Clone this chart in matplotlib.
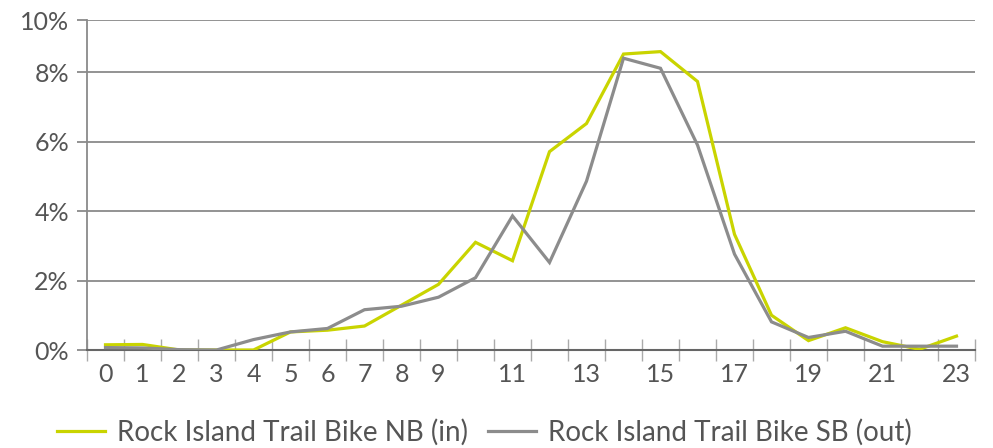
import numpy as np
import matplotlib.pyplot as plt
from matplotlib.ticker import FixedLocator, FuncFormatter

hours = list(range(24))
hour_labels = ['0', '1', '2', '3', '4', '5', '6', '7', '8', '9', '',
               '11', '', '13', '', '15', '', '17', '', '19', '', '21', '', '23']

# share of daily volume, in %
nb_in = [0.15, 0.16, 0.0, 0.0, 0.0, 0.52, 0.57, 0.69, 1.29, 1.89, 3.1, 2.57,
         5.71, 6.52, 8.52, 8.59, 7.73, 3.33, 1.0, 0.27, 0.64, 0.24, 0.02, 0.4]
sb_out = [0.07, 0.06, 0.01, 0.0, 0.3, 0.52, 0.62, 1.16, 1.26, 1.52, 2.08, 3.86,
          2.52, 4.86, 8.4, 8.11, 5.9, 2.76, 0.81, 0.36, 0.54, 0.11, 0.11, 0.11]

y_ticks = [0, 2, 4, 6, 8, 9.5]
y_labels = ['0%', '2%', '4%', '6%', '8%', '10%']

plt.rcParams['font.family'] = ['Lato', 'DejaVu Sans']

fig = plt.figure(figsize=(9.93, 4.48), dpi=100)
ax = fig.add_axes([87/993, (448-350)/448, (975-87)/993, 330/448])

grid_col = '#8a8a8a'
text_col = '#555555'

ax.plot(hours, nb_in, color='#c9d400', lw=2.3, label='Rock Island Trail Bike NB (in)',
        solid_joinstyle='miter', zorder=3)
ax.plot(hours, sb_out, color='#8c8c8c', lw=2.3, label='Rock Island Trail Bike SB (out)',
        solid_joinstyle='miter', zorder=4)

ax.set_xlim(-0.5, 23.5)
ax.set_ylim(0, 9.5)

ax.set_yticks(y_ticks)
ax.set_yticklabels(y_labels)
ax.yaxis.grid(True, color=grid_col, lw=1.3)
ax.set_axisbelow(True)

# boundaries between hours carry the tick marks, centers carry the labels
ax.xaxis.set_major_locator(FixedLocator(np.arange(-0.5, 24, 1)))
ax.xaxis.set_major_formatter(FuncFormatter(lambda v, p: ''))
ax.xaxis.set_minor_locator(FixedLocator(hours))
ax.set_xticklabels(hour_labels, minor=True)

ax.tick_params(axis='x', which='major', direction='inout', length=16, width=1, color='#aaaaaa')
ax.tick_params(axis='x', which='minor', length=0, pad=9, labelsize=18, labelcolor=text_col)
ax.tick_params(axis='y', direction='out', length=7, width=1.3, color=grid_col, pad=6,
               labelsize=18, labelcolor=text_col)

for s in ['top', 'right']:
    ax.spines[s].set_visible(False)
ax.spines['left'].set_color(grid_col)
ax.spines['left'].set_linewidth(1.3)
ax.spines['bottom'].set_color('#666666')
ax.spines['bottom'].set_linewidth(1.5)

fig.legend(loc='center left', bbox_to_anchor=(57/993, 1 - 432/448), ncol=2, frameon=False,
           fontsize=20, handlelength=1.73, columnspacing=0.72, handletextpad=0.43,
           borderpad=0, borderaxespad=0, labelcolor=text_col)

fig.savefig('out.png', dpi=100)
